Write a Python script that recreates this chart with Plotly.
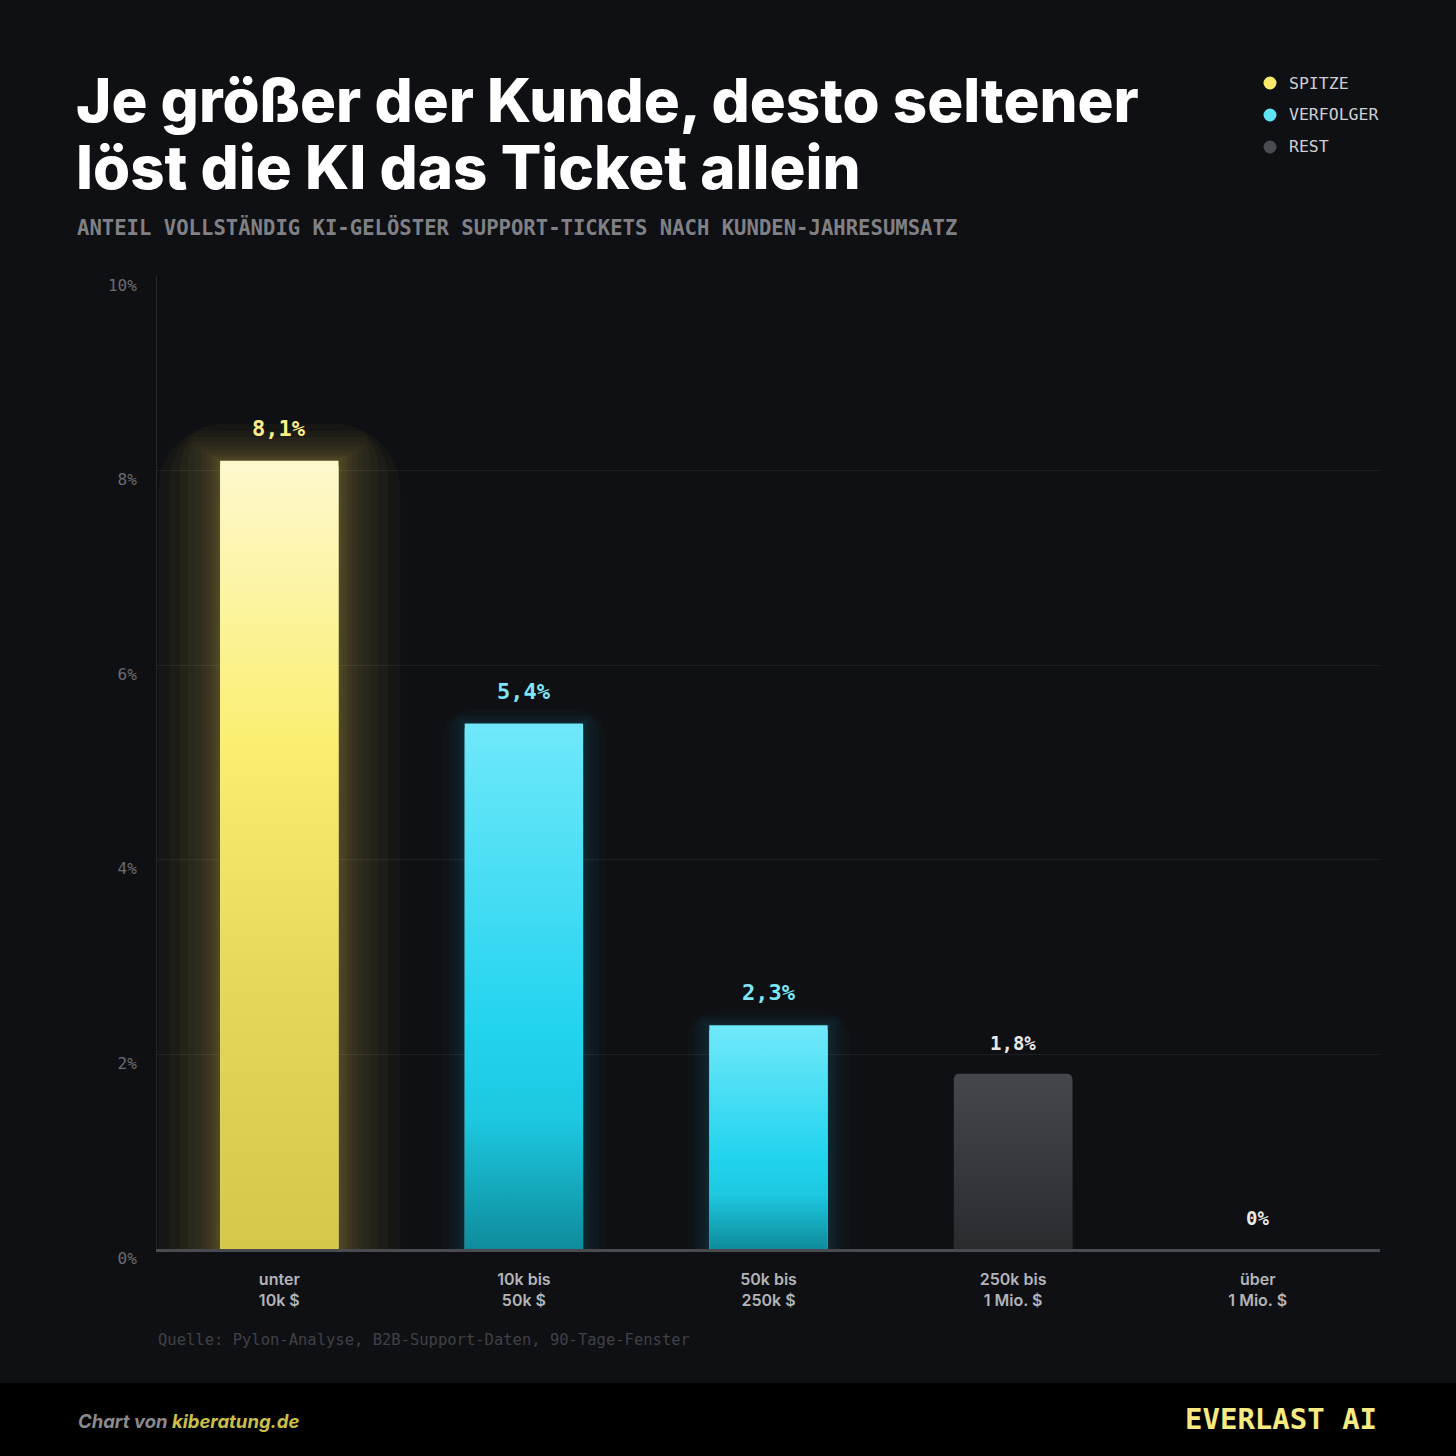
import plotly.graph_objects as go

# ---------------- data ----------------
categories = ["unter<br>10k $", "10k bis<br>50k $", "50k bis<br>250k $", "250k bis<br>1 Mio. $", "über<br>1 Mio. $"]
values = [8.1, 5.4, 2.3, 1.8, 0.0]
groups = ["SPITZE", "VERFOLGER", "VERFOLGER", "REST", "REST"]
y_tickvals = [0, 2, 4, 6, 8, 10]
y_ticktext = ["0%", "2%", "4%", "6%", "8%", "10%"]
legend_items = ["SPITZE", "VERFOLGER", "REST"]

title_lines = ["Je größer der Kunde, desto seltener", "löst die KI das Ticket allein"]
subtitle = "ANTEIL VOLLSTÄNDIG KI-GELÖSTER SUPPORT-TICKETS NACH KUNDEN-JAHRESUMSATZ"
source = "Quelle: Pylon-Analyse, B2B-Support-Daten, 90-Tage-Fenster"

# ---------------- styles ----------------
W = H = 1456
ML, MR, MT, MB = 157, 76, 276, 207
PW, PH = W - ML - MR, H - MT - MB
BG = "#0f1013"
MONO = "DejaVu Sans Mono"
SANS = "Inter"

style = {
    "SPITZE": dict(top="#FEF8CC", scale=[[0, "#D5C74A"], [0.35, "#E6D85C"], [0.65, "#FAEF72"], [1, "#FEF8CC"]],
                   glow=(250, 236, 100), ext=[2, 4, 7, 10, 14, 19, 25, 32, 40, 50, 62], alpha=0.033,
                   label="#FCEF8A", lsize=22, dot="#FBEA6A"),
    "VERFOLGER": dict(top="#6EE8FA", scale=[[0, "#0E8C9C"], [0.25, "#1DC8E0"], [0.42, "#22D3EE"], [1, "#6EE8FA"]],
                      glow=(40, 210, 235), ext=[2, 4, 7, 11, 16, 22], alpha=0.025,
                      label="#7FE6F7", lsize=22, dot="#5EE3F5"),
    "REST": dict(top="#45464B", scale=[[0, "#2A2B2F"], [1, "#45464B"]],
                 glow=None, ext=[], alpha=0, label="#E8E8E8", lsize=19, dot="#4A4B50"),
}

BAR_W = 0.484
PX_PER_X = PW / 5.0
PX_PER_Y = PH / 10.0


def px_x(px):
    return (px - ML) / PW


def px_y(py):
    return (H - MB - py) / PH


fig = go.Figure()

# glow layers
for i, (v, g) in enumerate(zip(values, groups)):
    s = style[g]
    if v <= 0 or not s["glow"]:
        continue
    r, gg, b = s["glow"]
    for ext in reversed(s["ext"]):
        fig.add_trace(go.Bar(
            x=[i], y=[v + 0.6 * ext / PX_PER_Y], width=[BAR_W + 2 * ext / PX_PER_X],
            marker=dict(color=f"rgba({r},{gg},{b},{s['alpha']})", line=dict(width=0),
                        cornerradius=5 + ext),
            hoverinfo="skip", showlegend=False))

# main bars (solid top colour, rounded top)
for i, (v, g) in enumerate(zip(values, groups)):
    s = style[g]
    fig.add_trace(go.Bar(
        x=[i], y=[v], width=[BAR_W],
        marker=dict(color=s["top"], line=dict(width=0), cornerradius=5),
        hoverinfo="skip", showlegend=False))

# gradient body of each bar
for i, (v, g) in enumerate(zip(values, groups)):
    s = style[g]
    if v <= 0:
        continue
    cap = 5 / PX_PER_Y
    x0, x1 = i - BAR_W / 2, i + BAR_W / 2
    fig.add_trace(go.Scatter(
        x=[x0, x1, x1, x0, x0], y=[0, 0, v - cap, v - cap, 0],
        mode="lines", line=dict(width=0), fill="toself",
        fillgradient=dict(type="vertical", colorscale=s["scale"]),
        hoverinfo="skip", showlegend=False))

annotations = []

# value labels
for i, (v, g) in enumerate(zip(values, groups)):
    s = style[g]
    txt = ("0%" if v == 0 else f"{v:.1f}".replace(".", ",") + "%")
    annotations.append(dict(x=i, y=v, xref="x", yref="y", text=f"<b>{txt}</b>", showarrow=False,
                            yanchor="bottom", yshift=18,
                            font=dict(family=MONO, size=s["lsize"], color=s["label"])))

# title
for line, yy in zip(title_lines, [100, 167]):
    annotations.append(dict(x=px_x(74), y=px_y(yy), xref="paper", yref="paper", text=line,
                            showarrow=False, xanchor="left", yanchor="middle",
                            font=dict(family=SANS, size=60, color="#ffffff", weight=800)))
# subtitle
annotations.append(dict(x=px_x(75), y=px_y(227), xref="paper", yref="paper", text=subtitle,
                        showarrow=False, xanchor="left", yanchor="middle",
                        font=dict(family=MONO, size=20.6, color="#808085", weight=600)))

# legend
for j, name in enumerate(legend_items):
    yy = 83 + 32 * j
    annotations.append(dict(x=px_x(1287), y=px_y(yy), xref="paper", yref="paper", text=name,
                            showarrow=False, xanchor="left", yanchor="middle",
                            font=dict(family=MONO, size=16.5, color="#cfcfd3")))

# source
annotations.append(dict(x=px_x(156), y=px_y(1340), xref="paper", yref="paper", text=source,
                        showarrow=False, xanchor="left", yanchor="middle",
                        font=dict(family=MONO, size=15.5, color="#404147")))

# footer
annotations.append(dict(x=px_x(76), y=px_y(1421), xref="paper", yref="paper",
                        text="Chart von <span style='color:#c9bf48'>kiberatung.de</span>",
                        showarrow=False, xanchor="left", yanchor="middle",
                        font=dict(family=SANS, size=18.5, color="#8a8a8e", weight=700, style="italic")))
annotations.append(dict(x=px_x(1379), y=px_y(1419), xref="paper", yref="paper", text="<b>EVERLAST AI</b>",
                        showarrow=False, xanchor="right", yanchor="middle",
                        font=dict(family=MONO, size=29, color="#F6EA80")))

shapes = [
    dict(type="rect", xref="paper", yref="paper", x0=px_x(0), x1=px_x(W), y0=px_y(H), y1=px_y(1383),
         fillcolor="#000000", line=dict(width=0), layer="below"),
]
for j, name in enumerate(legend_items):
    yy = 83 + 32 * j
    col = style[name]["dot"]
    shapes.append(dict(type="circle", xref="paper", yref="paper",
                       x0=px_x(1263.5), x1=px_x(1276.5), y0=px_y(yy + 6.5), y1=px_y(yy - 6.5),
                       fillcolor=col, line=dict(width=0)))

fig.update_layout(
    width=W, height=H, margin=dict(l=ML, r=MR, t=MT, b=MB, pad=0),
    paper_bgcolor=BG, plot_bgcolor=BG,
    barmode="overlay", showlegend=False,
    annotations=annotations, shapes=shapes,
    xaxis=dict(range=[-0.5, 4.5], tickvals=list(range(len(categories))), ticktext=categories,
               showgrid=False, zeroline=False, showline=True, linecolor="#4a4b50", linewidth=3,
               ticks="", ticklabelstandoff=14, layer="above traces",
               tickfont=dict(family=SANS, size=16, color="#b4b4b8", weight=600), fixedrange=True),
    yaxis=dict(range=[0, 10], tickvals=y_tickvals, ticktext=y_ticktext,
               showgrid=True, gridcolor="#1e1f23", gridwidth=1, zeroline=False,
               showline=True, linecolor="#26272b", linewidth=1, ticks="", ticklabelstandoff=16,
               ticklabelshift=9,
               tickfont=dict(family=MONO, size=16, color="#6b6b70"), fixedrange=True),
    hovermode=False,
)

fig.write_html("out.html")
